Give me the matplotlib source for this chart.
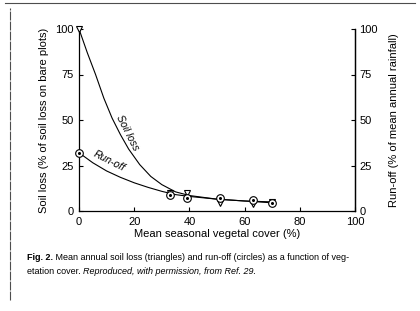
import matplotlib
matplotlib.use("Agg")
import matplotlib.pyplot as plt
from matplotlib.lines import Line2D

plt.rcParams['font.family'] = ['Liberation Sans', 'DejaVu Sans']

# Data
cover_soil = [0, 33, 39, 51, 63, 70]
soil_loss = [100, 10, 10, 4.5, 4, 5]
cover_run = [0, 33, 39, 51, 63, 70]
run_off = [32, 9, 7, 7, 6, 4.5]

# fitted curves
curve_soil_x = [0, 3, 6, 9, 12, 15, 18, 22, 26, 30, 35, 40, 50, 60, 70]
curve_soil_y = [100, 87, 75, 62, 51, 42, 34, 25.5, 19, 14.5, 10.5, 8.5, 6.5, 5.5, 5]
curve_run_x = [0, 5, 10, 15, 20, 25, 30, 35, 40, 50, 60, 70]
curve_run_y = [32, 26.5, 22, 18.5, 15.5, 13, 10.8, 9, 8, 6.5, 5.5, 4.5]

xticks = [0, 20, 40, 60, 80, 100]
yticks = [0, 25, 50, 75, 100]

fig = plt.figure(figsize=(4.2, 3.11), dpi=100)
ax = fig.add_axes([79/420, 1-211/311, (355-79)/420, (211-29)/311])
ax.plot(curve_soil_x, curve_soil_y, color='black', lw=0.8)
ax.plot(curve_run_x, curve_run_y, color='black', lw=0.8)
ax.plot(cover_soil, soil_loss, linestyle='none', marker='v', ms=5, mfc='white',
        mec='black', mew=0.8, clip_on=False, zorder=3)
ax.plot(cover_run, run_off, linestyle='none', marker='o', ms=5.5, mfc='white',
        mec='black', mew=0.8, clip_on=False, zorder=4)
ax.plot(cover_run, run_off, linestyle='none', marker='o', ms=1.2, mfc='black',
        mec='black', clip_on=False, zorder=5)

ax.set_xlim(0, 100)
ax.set_ylim(0, 100)
ax.set_xticks(xticks)
ax.set_yticks(yticks)
ax.spines['top'].set_visible(False)
for s in ['left', 'bottom', 'right']:
    ax.spines[s].set_linewidth(0.9)
ax.tick_params(direction='in', length=3, width=0.8, labelsize=8, pad=4)
ax.set_xlabel('Mean seasonal vegetal cover (%)', fontsize=8, labelpad=2)
ax.set_ylabel('Soil loss (% of soil loss on bare plots)', fontsize=8, labelpad=4)

ax2 = ax.twinx()
ax2.set_ylim(0, 100)
ax2.set_yticks(yticks)
ax2.spines['top'].set_visible(False)
ax2.spines['left'].set_visible(False)
ax2.spines['bottom'].set_visible(False)
ax2.spines['right'].set_linewidth(0.9)
ax2.tick_params(direction='in', length=3, width=0.8, labelsize=8, pad=3)
ax2.set_ylabel('Run-off (% of mean annual rainfall)', fontsize=8, labelpad=8)

ax.text(17.6, 43, 'Soil loss', rotation=-63, fontsize=7.5, style='italic',
        ha='center', va='center')
ax.text(11, 27.5, 'Run-off', rotation=-27, fontsize=7.5, style='italic',
        ha='center', va='center')

fs = 6.5
t1 = fig.text(27/420, 1-258/311, 'Fig. 2.', fontsize=fs, weight='bold',
              ha='left', va='center')
fig.add_artist(plt.Annotation(
    ' Mean annual soil loss (triangles) and run-off (circles) as a function of veg-',
    xy=(1, 0.5), xycoords=t1, va='center', ha='left', fontsize=fs))
t2 = fig.text(27/420, 1-271/311, 'etation cover. ', fontsize=fs, ha='left', va='center')
fig.add_artist(plt.Annotation('Reproduced, with permission, from Ref. 29.',
                              xy=(1, 0.5), xycoords=t2, va='center', ha='left',
                              fontsize=fs, style='italic'))

fig.add_artist(Line2D([10/420, 10/420], [1-300/311, 1-8/311], color='0.3', lw=0.8,
                      linestyle=(0, (8, 1))))
fig.add_artist(Line2D([5/420, 415/420], [1-3/311, 1-3/311], color='0.3', lw=0.8))

fig.savefig('out.png', dpi=100)
